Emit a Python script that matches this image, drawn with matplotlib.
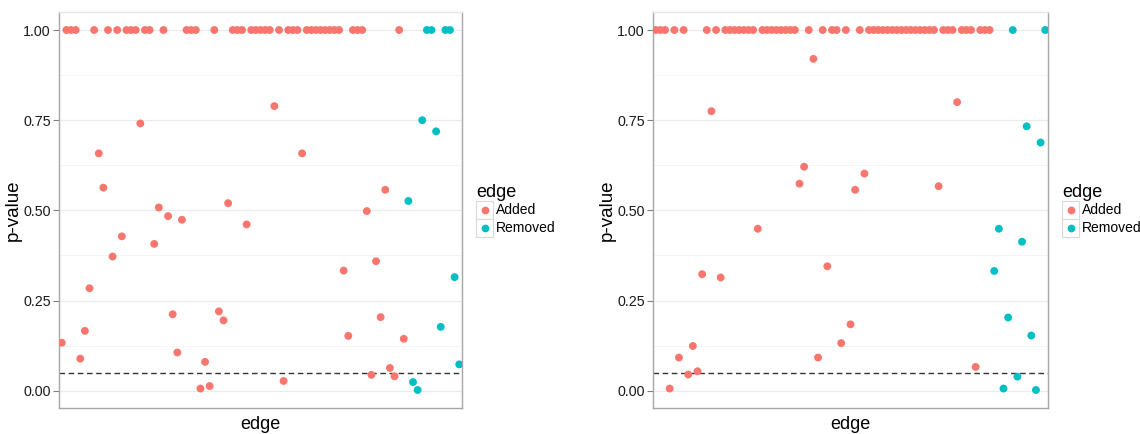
import numpy as np
import matplotlib
matplotlib.use("Agg")
import matplotlib.pyplot as plt
from matplotlib.patches import Rectangle
from matplotlib.lines import Line2D

plt.rcParams['font.family'] = ['Liberation Sans', 'DejaVu Sans']

# ---------------- data ----------------
# Left panel: one p-value per edge (categorical x), status per edge
left_pvalues = [
    0.133, 1, 1, 1, 0.089, 0.166, 0.284, 1, 0.658, 0.563,
    1, 0.372, 1, 0.428, 1, 1, 1, 0.741, 1, 1,
    0.407, 0.508, 1, 0.484, 0.212, 0.106, 0.474, 1, 1, 1,
    0.006, 0.080, 0.013, 1, 0.220, 0.195, 0.520, 1, 1, 1,
    0.461, 1, 1, 1, 1, 1, 0.789, 1, 0.027, 1,
    1, 1, 0.658, 1, 1, 1, 1, 1, 1, 1,
    1, 0.333, 0.152, 1, 1, 1, 0.498, 0.044, 0.359, 0.204,
    0.557, 0.063, 0.040, 1, 0.144,
    0.526, 0.024, 0.002, 0.750, 1, 1, 0.719, 0.177, 1, 1, 0.315, 0.073,
]
left_status = ["Added"] * 75 + ["Removed"] * 12

right_pvalues = [
    1, 1, 1, 0.006, 1, 0.092, 1, 0.045, 0.124, 0.054,
    0.323, 1, 0.775, 1, 0.314, 1, 1, 1, 1, 1,
    1, 1, 0.449, 1, 1, 1, 1, 1, 1, 1,
    1, 0.574, 0.621, 1, 0.920, 0.092, 1, 0.345, 1, 1,
    0.132, 1, 0.184, 0.557, 1, 0.602, 1, 1, 1, 1,
    1, 1, 1, 1, 1, 1, 1, 1, 1, 1,
    1, 0.567, 1, 1, 1, 0.800, 1, 1, 1, 0.066,
    1, 1, 1,
    0.332, 0.449, 0.006, 0.203, 1, 0.039, 0.413, 0.733, 0.153, 0.002, 0.688, 1,
]
right_status = ["Added"] * 73 + ["Removed"] * 12

left_edges = [f"e{i+1}" for i in range(len(left_pvalues))]
right_edges = [f"e{i+1}" for i in range(len(right_pvalues))]

y_ticks = [0.00, 0.25, 0.50, 0.75, 1.00]
y_ticklabels = ["0.00", "0.25", "0.50", "0.75", "1.00"]
threshold = 0.05
groups = ["Added", "Removed"]
colors = {"Added": "#F8766D", "Removed": "#00BFC4"}

# ---------------- figure ----------------
W, H = 1140, 434
fig = plt.figure(figsize=(W / 100, H / 100), dpi=100)


def px_axes(x0, y0, x1, y1):
    return fig.add_axes([x0 / W, 1 - y1 / H, (x1 - x0) / W, (y1 - y0) / H])


def draw_panel(ax, edges, pvals, status):
    n = len(edges)
    xs = np.arange(n)
    pv = np.array(pvals, dtype=float)
    st = np.array(status)
    lo, hi = pv.min(), pv.max()
    pad = 0.05 * (hi - lo)
    ax.set_ylim(lo - pad, hi + pad)
    ax.set_xlim(-0.6, n - 1 + 0.6)
    # grid
    for v in np.arange(0, 1.0001, 0.125):
        major = abs((v / 0.25) - round(v / 0.25)) < 1e-9
        ax.axhline(v, color="#ebebeb" if major else "#f4f4f4",
                   lw=0.9 if major else 0.7, zorder=0)
    ax.axhline(threshold, color="#333333", lw=1.0, ls=(0, (4, 2.6)), zorder=1)
    for g in groups:
        m = st == g
        ax.scatter(xs[m], pv[m], s=32, color=colors[g], edgecolors="none",
                   zorder=3)
    ax.set_xticks([])
    ax.set_yticks(y_ticks)
    ax.set_yticklabels(y_ticklabels, fontsize=10.3, color="#1a1a1a")
    ax.tick_params(axis="y", length=4, width=0.8, color="#7f7f7f", pad=2)
    for s in ax.spines.values():
        s.set_color("#a6a6a6")
        s.set_linewidth(1.0)
    ax.spines["top"].set_color("#e6e6e6")
    ax.set_xlabel("edge", fontsize=13, labelpad=6, color="#000000")
    ax.set_ylabel("p-value", fontsize=13.5, labelpad=1, color="#000000")


def draw_legend(x0, y_title):
    fig.text(x0 / W, 1 - y_title / H, "edge", fontsize=13, ha="left",
             va="center", color="#000000")
    for k, g in enumerate(groups):
        top = y_title + 9 + k * 18
        fig.patches.append(Rectangle((x0 / W, 1 - (top + 18) / H), 17 / W, 18 / H,
                                     transform=fig.transFigure, facecolor="white",
                                     edgecolor="#d9d9d9", lw=0.8))
        fig.lines.append(Line2D([(x0 + 8.5) / W], [1 - (top + 9) / H], marker="o",
                                markersize=5.6, color=colors[g], mec="none",
                                transform=fig.transFigure))
        fig.text((x0 + 20) / W, 1 - (top + 9.5) / H, g, fontsize=10,
                 ha="left", va="center", color="#000000")


ax1 = px_axes(59, 12, 462, 408)
draw_panel(ax1, left_edges, left_pvalues, left_status)
ax2 = px_axes(653, 12, 1048, 408)
draw_panel(ax2, right_edges, right_pvalues, right_status)

draw_legend(476, 192)
draw_legend(1062, 192)

fig.savefig("out.png", dpi=100)
